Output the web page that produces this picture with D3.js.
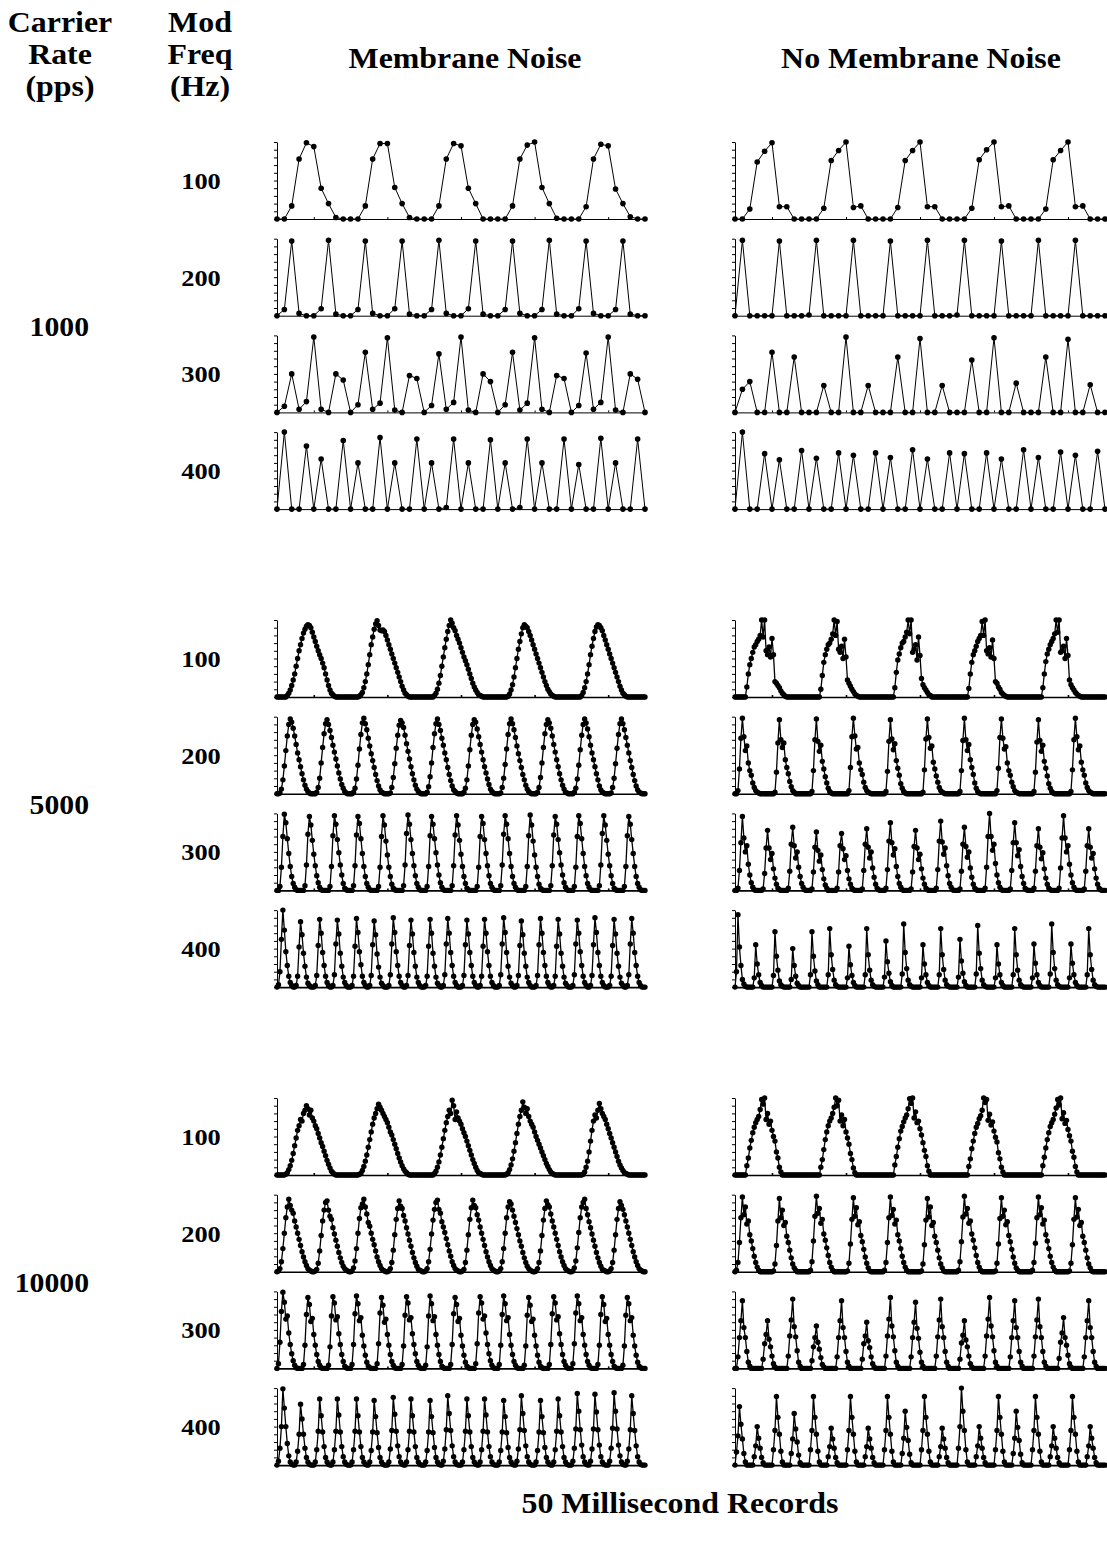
<!DOCTYPE html>
<html>
<head>
<meta charset="utf-8">
<script src="https://cdn.jsdelivr.net/npm/d3@7"></script>
<style>
  body { margin: 0; background: #fff; }
  text { font-family: "Liberation Serif", "Times New Roman", serif; font-weight: bold; fill: #000; }
</style>
</head>
<body>
<div id="chart"></div>
<script>
// Row / column labels
const carrierRates = ['1000', '5000', '10000'];
const modFreqs = ['100', '200', '300', '400'];
const conditions = ['Membrane Noise', 'No Membrane Noise'];
const headerLeft = ['Carrier', 'Rate', '(pps)'];
const headerMod = ['Mod', 'Freq', '(Hz)'];
const footer = '50 Millisecond Records';
const recordMs = 50;

// Response per carrier pulse (0-100 = top of axis). m = membrane noise, n = no membrane noise
// 1000 pps : one value per 1 ms
const p1000_100m = [0,0,17,78,99,94,40,20,2,0, 0,0,17,78,98,98,41,20,2,0, 0,0,17,78,98,95,40,20,0,0, 0,0,17,78,96,100,41,20,1,0, 0,0,16,78,97,95,39,20,3,0, 0];
const p1000_100n = [0,0,13,74,88,99,16,16,0,0, 0,0,14,76,89,100,15,17,0,0, 0,0,15,76,89,100,16,16,0,0, 0,0,14,77,90,100,16,17,0,0, 0,0,13,77,89,100,16,17,0,0, 0];
const p1000_200m = [0,8,97,3,0, 0,9,98,2,0, 0,8,97,3,0, 0,9,97,2,0, 0,8,98,3,0, 0,9,97,2,0, 0,8,97,3,0, 0,8,98,2,0, 0,9,97,3,0, 0,8,97,2,0, 0];
const p1000_200n = [0,98,0,0,0, 0,97,0,0,0, 1,98,0,0,0, 0,98,0,0,0, 0,97,0,0,0, 0,98,0,0,0, 1,98,0,0,0, 0,97,0,0,0, 0,98,0,0,0, 0,98,0,0,0, 0];
const p1000_300m = [0,8,50,4,14,98,4,0,50,42, 0,10,78,4,12,97,3,0,48,44, 0,9,76,4,13,98,3,0,50,40, 0,10,78,3,12,97,4,0,48,44, 0,9,77,4,13,98,3,0,50,43, 0];
const p1000_300n = [0,30,40,0,0,78,0,0,72,0, 0,0,35,0,0,98,0,0,35,0, 0,0,72,0,0,96,0,0,35,0, 0,0,68,0,0,97,0,0,38,0, 0,0,72,0,0,95,0,0,36,0, 0];
const p1000_400m = [0,100,0,0,82,0,65,0,0,89, 0,60,0,0,93,0,60,0,0,91, 0,60,0,2,91,0,60,0,0,90, 0,60,0,2,91,0,60,0,0,91, 0,58,0,0,92,0,60,0,0,91, 0];
const p1000_400n = [0,100,0,0,72,0,64,0,0,76, 0,66,0,0,73,0,70,0,0,73, 0,67,0,0,77,0,65,0,0,73, 0,72,0,0,73,0,65,0,0,77, 0,67,0,0,74,0,70,0,0,75, 0];

// 5000 pps : one value per 0.2 ms
const p5000_100m = [
  0,0,0,0,0,0,0,2,5,9,15,22,30,40,50,60,68,76,83,88,92,94,93,90,84,78,72,66,60,55,50,44,38,30,22,15,9,5,3,1,0,0,0,0,0,0,0,0,0,0,
  0,0,0,0,0,0,1,3,6,12,20,30,42,55,68,78,88,95,99,93,87,86,87,85,80,74,68,62,56,50,44,38,32,26,20,14,9,5,3,1,0,0,0,0,0,0,0,0,0,0,
  0,0,0,0,0,0,0,2,5,10,18,28,40,52,64,75,85,93,100,96,90,86,80,75,70,64,58,52,47,42,36,30,24,18,13,9,6,3,2,1,0,0,0,0,0,0,0,0,0,0,
  0,0,0,0,0,0,0,1,4,9,16,26,38,50,62,72,82,90,94,92,90,85,80,74,68,62,56,50,44,38,32,26,20,15,10,7,4,2,1,0,0,0,0,0,0,0,0,0,0,0,
  0,0,0,0,0,0,0,2,6,12,20,30,42,55,66,76,85,91,94,93,90,86,80,74,68,62,56,50,44,38,32,26,20,14,9,5,3,1,0,0,0,0,0,0,0,0,0,0,0,0,
  0];
const p5000_100n = [
  0,0,0,0,0,0,0,0,13,30,42,50,58,65,68,72,75,80,100,78,100,60,55,65,52,76,55,20,18,15,12,8,5,3,1,0,0,0,0,0,0,0,0,0,0,0,0,0,0,0,
  0,0,0,0,0,0,0,0,10,28,45,55,62,68,70,75,82,100,80,98,62,58,66,50,75,52,22,18,14,10,7,4,2,1,0,0,0,0,0,0,0,0,0,0,0,0,0,0,0,0,
  0,0,0,0,0,0,0,0,12,32,48,56,64,70,72,78,84,100,82,100,58,62,68,48,78,54,24,16,12,9,6,3,2,0,0,0,0,0,0,0,0,0,0,0,0,0,0,0,0,0,
  0,0,0,0,0,0,0,0,11,30,45,55,60,66,72,76,80,98,80,100,60,56,64,52,74,50,20,18,13,10,6,4,2,1,0,0,0,0,0,0,0,0,0,0,0,0,0,0,0,0,
  0,0,0,0,0,0,0,0,12,30,46,56,62,68,72,76,82,100,84,100,58,60,66,50,76,54,22,16,12,9,6,4,2,1,0,0,0,0,0,0,0,0,0,0,0,0,0,0,0,0,
  0];
const p5000_200m = [
  0,0,1,6,18,36,56,75,90,97,93,85,75,64,53,44,35,26,18,11,6,3,1,0,0,
  0,0,2,8,20,40,60,78,91,96,90,82,73,63,54,45,36,27,19,12,7,3,1,0,0,
  0,0,2,7,19,37,58,77,92,98,91,83,72,62,52,43,34,25,17,10,5,2,1,0,0,
  0,0,1,8,21,39,59,76,89,95,92,86,76,65,55,45,35,26,18,11,6,3,1,0,0,
  0,0,2,9,22,40,60,78,91,97,90,82,72,63,53,44,34,25,17,10,5,3,1,0,0,
  0,0,2,7,18,36,57,76,90,96,93,84,74,64,54,44,35,27,19,12,6,3,1,0,0,
  0,0,1,8,20,38,58,77,91,97,91,83,73,62,52,43,34,25,18,11,6,3,1,0,0,
  0,0,2,8,21,40,60,78,90,96,92,85,75,64,54,44,35,26,18,11,6,2,1,0,0,
  0,0,2,7,19,37,57,76,90,97,92,84,74,63,53,44,35,26,18,10,5,2,1,0,0,
  0,0,1,8,20,39,59,77,91,97,91,83,73,63,53,43,34,25,17,10,5,2,1,0,0,
  0];
const p5000_200n = [
  0,0,4,32,72,98,74,56,62,40,30,24,14,8,4,2,1,0,0,0,0,0,0,0,0,
  0,0,2,28,66,96,70,60,66,44,34,26,16,9,4,2,0,0,0,0,0,0,0,0,0,
  0,0,3,30,70,97,68,55,63,42,32,22,14,7,3,1,0,0,0,0,0,0,0,0,0,
  0,0,4,34,74,98,75,58,60,40,31,25,15,8,4,2,1,0,0,0,0,0,0,0,0,
  0,0,3,29,68,96,71,57,65,43,33,24,13,7,3,1,0,0,0,0,0,0,0,0,0,
  0,0,2,31,71,97,73,59,62,41,32,23,15,8,4,2,1,0,0,0,0,0,0,0,0,
  0,0,3,30,69,98,70,56,64,44,34,25,14,7,3,1,0,0,0,0,0,0,0,0,0,
  0,0,4,33,73,97,72,58,61,40,30,24,15,9,4,2,1,0,0,0,0,0,0,0,0,
  0,0,3,28,67,96,69,55,63,42,33,23,13,7,3,1,0,0,0,0,0,0,0,0,0,
  0,0,3,31,70,98,74,57,62,41,31,24,14,8,4,2,1,0,0,0,0,0,0,0,0,
  0];
const p5000_300m = [
  0,0,5,30,70,99,88,67,48,31,18,9,4,1,0,0,0,
  0,0,6,33,73,96,85,65,47,32,19,10,4,1,0,0,0,
  0,0,5,31,71,97,86,66,49,33,20,9,3,1,0,0,
  0,0,6,32,72,96,87,67,48,31,18,9,4,1,0,0,0,
  0,0,5,30,70,97,85,64,46,30,18,8,3,1,0,0,0,
  0,0,6,33,74,98,86,66,48,32,19,9,4,1,0,0,
  0,0,5,31,71,96,86,67,49,33,20,10,4,1,0,0,0,
  0,0,6,32,72,97,85,65,47,31,18,9,3,1,0,0,0,
  0,0,5,30,70,96,87,66,48,32,19,9,4,1,0,0,
  0,0,6,33,73,97,86,67,48,31,18,9,4,1,0,0,0,
  0,0,5,31,71,98,85,64,46,30,18,8,3,1,0,0,0,
  0,0,6,32,72,96,86,66,49,33,20,10,4,1,0,0,
  0,0,5,30,70,97,87,67,48,31,19,9,4,1,0,0,0,
  0,0,6,33,74,97,85,65,47,32,19,9,3,1,0,0,0,
  0,0,5,31,71,96,86,66,48,31,18,9,4,1,0,0,
  0];
const p5000_300n = [
  0,0,3,26,62,96,68,50,58,34,20,10,4,1,0,0,0,
  0,0,2,22,55,78,55,40,48,28,16,8,3,1,0,0,0,
  0,0,3,25,60,82,58,42,50,30,18,9,4,1,0,0,
  0,0,2,24,56,76,52,38,46,27,15,7,3,0,0,0,0,
  0,0,3,24,58,74,54,40,45,26,15,8,3,1,0,0,0,
  0,0,2,26,60,80,56,42,50,29,17,8,3,1,0,0,
  0,0,3,27,64,88,62,46,54,31,18,9,4,1,0,0,0,
  0,0,2,24,57,78,55,40,47,28,16,8,3,1,0,0,0,
  0,0,3,27,64,90,63,47,55,32,19,9,4,1,0,0,
  0,0,2,25,60,82,57,43,50,29,17,8,3,1,0,0,0,
  0,0,3,30,70,100,70,52,60,35,20,10,4,1,0,0,0,
  0,0,2,26,62,88,62,45,53,31,18,9,3,1,0,0,
  0,0,3,25,58,80,56,41,49,28,16,8,3,1,0,0,0,
  0,0,3,29,68,97,68,50,58,34,20,10,4,1,0,0,0,
  0,0,2,25,58,80,56,42,48,28,16,8,3,1,0,0,
  0];
const p5000_400m = [
  0,3,20,62,100,74,46,28,14,6,2,0,
  0,2,14,52,85,68,44,27,13,5,2,0,0,
  0,2,15,54,88,70,45,28,14,6,2,0,
  0,2,16,56,87,69,44,27,13,6,2,0,0,
  0,2,14,53,89,71,46,29,14,6,2,0,
  0,2,15,55,86,68,43,26,13,5,2,0,0,
  0,2,16,56,90,71,46,28,14,6,2,0,
  0,2,15,54,87,69,45,27,13,6,2,0,0,
  0,2,14,53,88,70,44,27,13,5,2,0,
  0,2,16,56,89,70,45,28,14,6,2,0,0,
  0,2,15,55,87,69,45,28,14,6,2,0,
  0,2,14,53,88,70,46,28,14,6,2,0,0,
  0,2,16,56,90,71,45,27,13,5,2,0,
  0,2,15,54,86,68,44,27,13,6,2,0,0,
  0,2,15,55,89,70,45,28,14,6,2,0,
  0,2,14,53,88,69,44,27,13,5,2,0,0,
  0,2,16,56,87,70,46,28,14,6,2,0,
  0,2,15,55,90,71,45,28,14,6,2,0,0,
  0,2,14,54,88,69,44,27,13,5,2,0,
  0,2,16,56,89,70,45,28,14,6,2,0,0,
  0];
const p5000_400n = [
  0,20,94,52,28,10,4,1,0,0,0,0,
  0,12,55,30,16,6,2,0,0,0,0,0,0,
  0,15,72,40,22,8,3,1,0,0,0,0,
  0,10,50,28,14,5,2,0,0,0,0,0,0,
  0,16,72,40,21,8,3,0,0,0,0,0,
  0,16,76,42,23,9,3,1,0,0,0,0,0,
  0,12,53,29,15,6,2,0,0,0,0,0,
  0,16,76,42,22,9,3,1,0,0,0,0,0,
  0,13,60,33,18,7,2,0,0,0,0,0,
  0,17,82,45,24,9,3,1,0,0,0,0,0,
  0,12,55,30,16,6,2,0,0,0,0,0,
  0,16,76,42,23,9,3,1,0,0,0,0,0,
  0,13,62,34,18,7,2,0,0,0,0,0,
  0,17,80,44,24,9,3,1,0,0,0,0,0,
  0,12,55,30,16,6,2,0,0,0,0,0,
  0,16,76,42,22,9,3,1,0,0,0,0,0,
  0,12,56,31,16,6,2,0,0,0,0,0,
  0,17,82,45,24,9,3,1,0,0,0,0,0,
  0,12,56,31,16,6,2,0,0,0,0,0,
  0,16,76,42,23,9,3,1,0,0,0,0,0,
  0];

// 10000 pps : read every 0.2 ms (points merge into a solid trace)
const p10000_100m = [
  0,0,0,0,0,0,1,3,7,12,19,28,38,48,58,64,72,70,80,84,90,86,78,84,74,70,64,60,54,48,42,37,31,25,19,14,9,5,3,1,0,0,0,0,0,0,0,0,0,0,
  0,0,0,0,0,0,1,2,6,11,18,26,36,46,56,66,74,80,86,92,88,84,80,76,72,68,62,56,52,46,40,34,28,22,17,12,8,5,3,1,0,0,0,0,0,0,0,0,0,0,
  0,0,0,0,0,0,0,2,5,10,17,26,36,47,58,68,76,84,80,97,90,72,82,74,70,66,60,55,50,44,38,32,26,20,15,10,6,3,2,1,0,0,0,0,0,0,0,0,0,0,
  0,0,0,0,0,0,1,3,7,13,21,31,42,54,66,76,84,95,88,80,86,76,70,66,62,56,50,45,40,35,30,25,20,15,11,7,4,2,1,0,0,0,0,0,0,0,0,0,0,0,
  0,0,0,0,0,0,0,0,1,4,10,18,30,44,58,70,78,74,84,93,86,80,76,72,66,60,54,48,42,36,30,24,18,13,9,6,3,2,1,0,0,0,0,0,0,0,0,0,0,0,
  0];
const p10000_100n = [
  0,0,0,0,0,0,0,0,12,22,35,45,55,62,68,72,76,85,98,92,100,72,80,66,70,58,50,44,30,22,10,4,0,0,0,0,0,0,0,0,0,0,0,0,0,0,0,0,0,0,
  0,0,0,0,0,0,0,0,10,20,33,46,56,64,70,74,80,88,100,90,97,70,78,64,72,56,48,40,28,20,9,3,0,0,0,0,0,0,0,0,0,0,0,0,0,0,0,0,0,0,
  0,0,0,0,0,0,0,0,13,24,36,47,57,63,69,74,78,86,99,93,100,74,82,68,70,60,52,42,32,24,12,5,0,0,0,0,0,0,0,0,0,0,0,0,0,0,0,0,0,0,
  0,0,0,0,0,0,0,0,11,21,34,44,54,62,67,73,77,84,100,94,98,71,79,65,69,57,49,43,29,21,10,4,0,0,0,0,0,0,0,0,0,0,0,0,0,0,0,0,0,0,
  0,0,0,0,0,0,0,0,12,23,35,46,55,63,68,72,79,87,98,91,100,73,81,67,71,59,51,44,31,23,11,4,0,0,0,0,0,0,0,0,0,0,0,0,0,0,0,0,0,0,
  0];
const p10000_200m = [
  0,1,4,13,30,50,70,84,94,86,80,76,66,58,50,42,34,26,19,13,8,4,2,1,0,
  0,1,3,11,27,47,66,80,90,92,80,72,68,57,49,41,33,25,18,12,7,4,2,1,0,
  0,1,5,14,30,50,69,83,88,94,84,75,64,59,50,42,35,27,19,13,8,4,2,1,0,
  0,1,4,12,28,48,68,82,92,85,82,73,66,57,49,41,33,25,18,12,7,3,2,1,0,
  0,1,4,13,29,49,67,81,90,93,81,76,65,58,51,43,35,27,20,13,8,4,2,1,0,
  0,1,3,12,28,48,68,83,93,86,83,74,67,58,50,42,34,26,19,13,8,4,2,1,0,
  0,1,4,13,30,50,70,84,91,88,80,72,64,56,48,40,33,25,18,12,7,4,2,1,0,
  0,1,4,12,27,47,67,82,92,87,84,75,66,58,50,42,34,26,19,13,8,4,2,1,0,
  0,1,5,14,31,51,70,84,90,94,82,74,65,57,49,41,33,25,18,12,7,3,2,1,0,
  0,1,4,12,28,48,68,82,91,86,81,74,66,58,50,42,34,26,19,13,8,4,2,1,0,
  0];
const p10000_200n = [
  0,2,12,38,70,97,74,84,62,66,48,40,30,20,12,6,2,0,0,0,0,0,0,0,0,
  0,1,10,34,66,95,70,80,60,64,46,38,28,18,10,5,2,0,0,0,0,0,0,0,0,
  0,2,13,40,72,98,76,82,63,68,49,41,31,21,12,6,2,0,0,0,0,0,0,0,0,
  0,1,11,36,68,96,72,83,61,65,47,39,29,19,11,5,1,0,0,0,0,0,0,0,0,
  0,2,12,38,70,97,73,81,62,67,48,40,30,20,12,6,2,0,0,0,0,0,0,0,0,
  0,1,10,35,67,95,71,84,60,64,46,38,28,18,10,5,1,0,0,0,0,0,0,0,0,
  0,2,13,39,71,98,75,82,63,66,49,41,31,21,12,6,2,0,0,0,0,0,0,0,0,
  0,1,11,36,69,96,72,80,61,65,47,39,29,19,11,5,2,0,0,0,0,0,0,0,0,
  0,2,12,37,70,97,74,83,62,67,48,40,30,20,12,6,2,0,0,0,0,0,0,0,0,
  0,1,11,35,68,96,71,81,60,64,46,38,28,18,10,5,1,0,0,0,0,0,0,0,0,
  0];
const p10000_300m = [
  0,6,34,74,99,86,64,68,46,31,19,10,4,1,0,0,0,
  0,5,30,70,92,83,61,65,44,30,18,9,4,1,0,0,0,
  0,4,28,68,93,85,63,67,45,31,18,9,3,1,0,0,
  0,5,31,71,94,84,62,66,43,29,17,8,3,1,0,0,0,
  0,6,32,72,92,82,60,64,44,30,18,9,4,1,0,0,0,
  0,5,29,69,93,85,63,66,45,31,19,9,4,1,0,0,
  0,4,28,68,94,84,62,67,44,30,18,9,3,1,0,0,0,
  0,5,31,71,92,83,61,65,43,29,17,8,3,1,0,0,0,
  0,6,32,72,93,85,64,68,46,31,19,10,4,1,0,0,
  0,5,30,70,94,84,62,66,44,30,18,9,4,1,0,0,0,
  0,4,29,69,92,82,61,64,43,29,17,8,3,1,0,0,0,
  0,5,31,71,93,85,63,67,45,31,18,9,4,1,0,0,
  0,6,32,72,94,84,62,66,44,30,18,9,4,1,0,0,0,
  0,5,30,70,93,83,61,65,44,30,18,9,3,1,0,0,0,
  0,4,29,69,92,84,62,66,43,29,17,8,3,1,0,0,
  0];
const p10000_300n = [
  0,0,15,40,62,88,53,40,22,8,3,0,0,0,0,0,0,
  0,0,12,32,44,62,38,28,16,6,2,0,0,0,0,0,0,
  0,0,16,42,63,90,54,41,23,8,3,0,0,0,0,0,
  0,0,10,28,40,55,34,25,14,5,2,0,0,0,0,0,0,
  0,0,15,40,62,88,53,40,22,8,3,0,0,0,0,0,0,
  0,0,12,32,42,60,36,27,15,6,2,0,0,0,0,0,
  0,0,16,42,64,92,55,41,23,8,3,0,0,0,0,0,0,
  0,0,15,40,60,86,52,39,21,8,3,0,0,0,0,0,0,
  0,0,16,41,63,90,54,40,22,8,3,0,0,0,0,0,
  0,0,12,33,43,62,37,28,16,6,2,0,0,0,0,0,0,
  0,0,16,42,64,92,55,41,23,8,3,0,0,0,0,0,0,
  0,0,15,40,62,88,53,40,22,8,3,0,0,0,0,0,
  0,0,16,41,63,90,54,40,22,8,3,0,0,0,0,0,0,
  0,0,13,34,46,66,40,30,17,6,2,0,0,0,0,0,0,
  0,0,15,40,62,88,53,40,22,8,3,0,0,0,0,0,
  0];
const p10000_400m = [
  0,5,22,50,99,74,50,28,12,4,1,0,
  0,4,18,40,79,60,40,22,10,4,1,0,0,
  0,4,20,44,86,64,43,24,10,4,1,0,
  0,4,20,44,86,65,43,24,11,4,1,0,0,
  0,4,20,44,86,64,43,24,10,4,1,0,
  0,4,19,43,84,63,42,23,10,4,1,0,0,
  0,4,21,45,88,66,44,25,11,4,1,0,
  0,4,20,44,86,64,43,24,10,4,1,0,0,
  0,4,19,43,84,63,42,23,10,4,1,0,
  0,5,21,46,90,67,45,25,11,4,1,0,0,
  0,4,20,44,86,64,43,24,10,4,1,0,
  0,4,20,44,86,65,43,24,11,4,1,0,0,
  0,4,19,43,84,63,42,23,10,4,1,0,
  0,5,21,46,90,67,45,25,11,4,1,0,0,
  0,4,19,43,84,63,42,23,10,4,1,0,
  0,4,20,44,86,64,43,24,10,4,1,0,0,
  0,5,22,47,93,70,46,26,11,4,1,0,
  0,5,21,47,92,69,46,26,11,4,1,0,0,
  0,5,22,48,94,70,47,26,12,4,1,0,
  0,5,21,46,90,67,45,25,11,4,1,0,0,
  0];
const p10000_400n = [
  0,17,38,76,53,34,15,4,0,0,0,0,
  0,11,25,50,35,22,10,3,0,0,0,0,0,
  0,20,45,89,62,40,18,4,0,0,0,0,
  0,15,34,67,47,30,13,3,0,0,0,0,0,
  0,20,45,89,62,40,18,4,0,0,0,0,
  0,11,24,48,34,22,10,3,0,0,0,0,0,
  0,20,45,89,62,40,18,4,0,0,0,0,
  0,11,24,48,34,22,10,3,0,0,0,0,0,
  0,20,45,89,62,40,18,4,0,0,0,0,
  0,15,35,70,49,32,14,3,0,0,0,0,0,
  0,20,45,89,62,40,18,4,0,0,0,0,
  0,11,24,48,34,22,10,3,0,0,0,0,0,
  0,22,50,100,70,45,20,4,0,0,0,0,
  0,11,25,50,35,22,10,3,0,0,0,0,0,
  0,20,45,89,62,40,18,4,0,0,0,0,
  0,15,35,70,49,32,14,3,0,0,0,0,0,
  0,20,45,89,62,40,18,4,0,0,0,0,
  0,11,25,50,35,22,10,3,0,0,0,0,0,
  0,20,45,89,62,40,18,4,0,0,0,0,
  0,11,25,50,35,22,10,3,0,0,0,0,0,
  0];

// [carrier][mod freq] -> [membrane noise, no membrane noise]
const records = {
  '1000':  { '100': [p1000_100m, p1000_100n], '200': [p1000_200m, p1000_200n], '300': [p1000_300m, p1000_300n], '400': [p1000_400m, p1000_400n] },
  '5000':  { '100': [p5000_100m, p5000_100n], '200': [p5000_200m, p5000_200n], '300': [p5000_300m, p5000_300n], '400': [p5000_400m, p5000_400n] },
  '10000': { '100': [p10000_100m, p10000_100n], '200': [p10000_200m, p10000_200n], '300': [p10000_300m, p10000_300n], '400': [p10000_400m, p10000_400n] }
};

const W = 1107, H = 1546;
const colX = [[277, 645], [735, 1105]];
const firstBase = 219, groupStep = 478, rowStep = 96.7, panelH = 77;

const svg = d3.select('#chart').append('svg')
  .attr('width', W)
  .attr('height', H);

// stretched serif text, like the scanned original
function label(x, y, str, size, anchor) {
  svg.append('text')
    .attr('transform', `translate(${x},${y}) scale(1.1,1)`)
    .attr('text-anchor', anchor || 'middle')
    .style('font-size', size + 'px')
    .text(str);
}

// headers
headerLeft.forEach((t, i) => label(60, 32 + i * 32, t, 29));
headerMod.forEach((t, i) => label(200, 32 + i * 32, t, 29));
label(465, 68, conditions[0], 29);
label(921, 68, conditions[1], 29);
label(680, 1513, footer, 29);

const y = d3.scaleLinear().domain([0, 100]).range([0, -panelH]);

carrierRates.forEach((rate, g) => {
  const base0 = firstBase + g * groupStep;
  const midY = base0 - 38 + 1.5 * rowStep;
  label(89, midY + 10, rate, 27, 'end');

  modFreqs.forEach((mf, r) => {
    const base = base0 + r * rowStep;
    label(201, base - 30, mf, 24);

    records[rate][mf].forEach((vals, c) => {
      const [x0, x1] = colX[c];
      const xi = d3.scaleLinear().domain([0, vals.length - 1]).range([x0, x1]);
      const xt = d3.scaleLinear().domain([0, recordMs]).range([x0, x1]);
      const dense = rate !== '1000';
      const panel = svg.append('g').attr('transform', `translate(0,${base})`);

      panel.append('g')
        .attr('transform', `translate(${x0},0)`)
        .call(d3.axisLeft(y).ticks(10).tickSize(3).tickSizeOuter(0).tickFormat(''))
        .call(a => a.selectAll('path,line').attr('stroke', '#000'));

      panel.append('g')
        .call(d3.axisBottom(xt).tickValues([5, 15, 25, 35, 45]).tickSize(-2).tickSizeOuter(0).tickFormat(''))
        .call(a => a.selectAll('path,line').attr('stroke', '#000').attr('stroke-width', dense ? 1.6 : 1));

      const line = d3.line().x((d, i) => xi(i)).y(d => y(d));
      panel.append('path')
        .datum(vals)
        .attr('fill', 'none')
        .attr('stroke', '#000')
        .attr('stroke-width', dense ? 1.3 : 1)
        .attr('d', line);

      panel.selectAll('circle')
        .data(vals)
        .enter()
        .append('circle')
        .attr('cx', (d, i) => xi(i))
        .attr('cy', d => y(d))
        .attr('r', dense ? 2.7 : 2.8)
        .attr('fill', '#000');
    });
  });
});
</script>
</body>
</html>
